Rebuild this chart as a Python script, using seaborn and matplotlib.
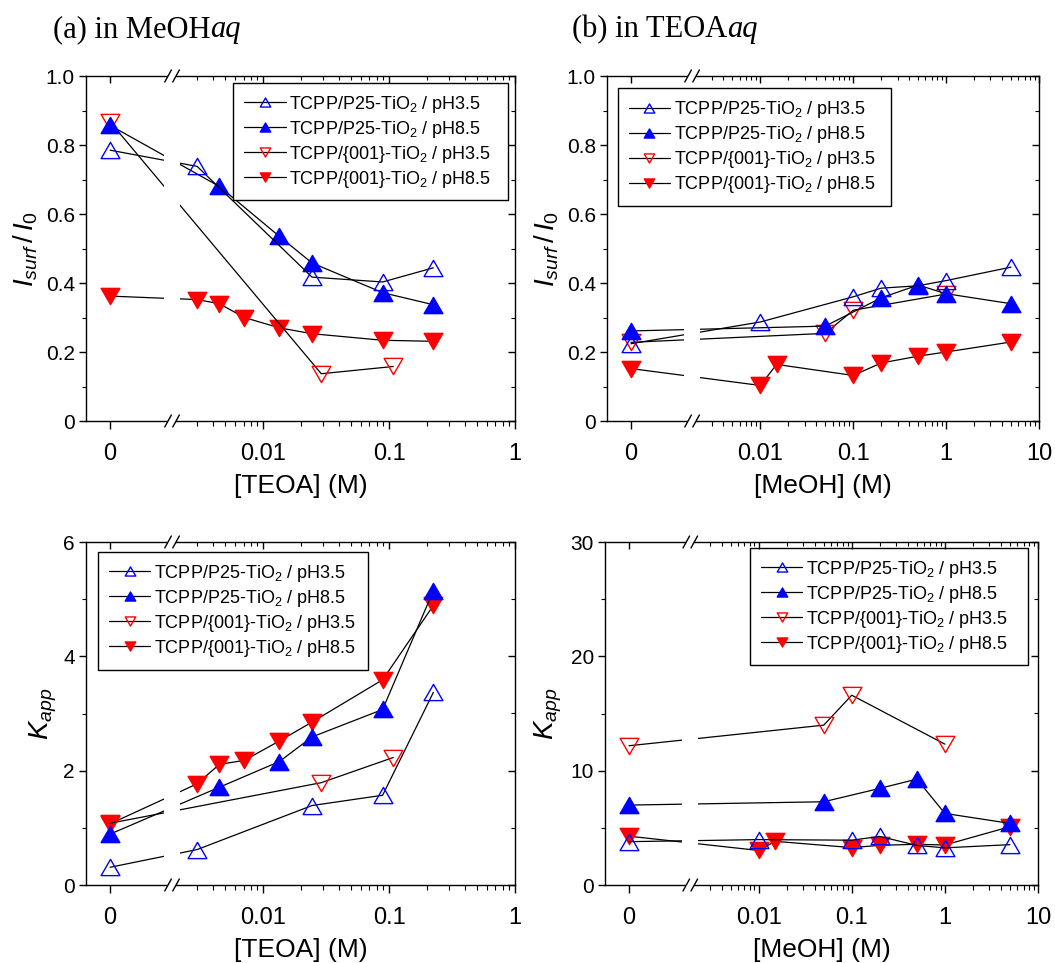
import numpy as np
import pandas as pd
import matplotlib
matplotlib.use("Agg")
import matplotlib.pyplot as plt
from matplotlib.patches import Rectangle
from matplotlib.path import Path
import seaborn as sns

# ---------------- data ----------------
labels = ['TCPP/P25-TiO$_2$ / pH3.5', 'TCPP/P25-TiO$_2$ / pH8.5',
          'TCPP/{001}-TiO$_2$ / pH3.5', 'TCPP/{001}-TiO$_2$ / pH8.5']

# [TEOA] (M), measurements in MeOHaq
teoa_p25_35 = [0, 0.003, 0.0245, 0.089, 0.225]
teoa_p25_85 = [0, 0.0045, 0.0135, 0.0245, 0.089, 0.225]
teoa_001_35 = [0, 0.029, 0.108]
teoa_001_85 = [0, 0.003, 0.0045, 0.0071, 0.0135, 0.0245, 0.089, 0.225]

# [MeOH] (M), measurements in TEOAaq
meoh_p25_35 = [0, 0.01, 0.1, 0.2, 0.5, 1, 5]
meoh_p25_85 = [0, 0.05, 0.2, 0.5, 1, 5]
meoh_001_35 = [0, 0.05, 0.1, 1]
meoh_001_85 = [0, 0.01, 0.015, 0.1, 0.2, 0.5, 1, 5]

# I_surf / I_0
isurf_a_p25_35 = [0.785, 0.738, 0.417, 0.403, 0.444]
isurf_a_p25_85 = [0.857, 0.680, 0.535, 0.458, 0.372, 0.337]
isurf_a_001_35 = [0.867, 0.137, 0.158]
isurf_a_001_85 = [0.362, 0.352, 0.340, 0.300, 0.270, 0.253, 0.234, 0.231]

isurf_b_p25_35 = [0.224, 0.287, 0.360, 0.385, 0.392, 0.407, 0.446]
isurf_b_p25_85 = [0.261, 0.275, 0.357, 0.394, 0.369, 0.340]
isurf_b_001_35 = [0.228, 0.254, 0.321, 0.368]
isurf_b_001_85 = [0.152, 0.103, 0.164, 0.132, 0.168, 0.188, 0.200, 0.229]

# K_app
kapp_a_p25_35 = [0.31, 0.62, 1.39, 1.57, 3.37]
kapp_a_p25_85 = [0.89, 1.71, 2.16, 2.59, 3.07, 5.15]
kapp_a_001_35 = [1.08, 1.79, 2.23]
kapp_a_001_85 = [1.07, 1.77, 2.11, 2.18, 2.52, 2.85, 3.59, 4.89]

kapp_b_p25_35 = [3.79, 3.97, 3.92, 4.25, 3.46, 3.25, 3.53]
kapp_b_p25_85 = [6.99, 7.28, 8.45, 9.26, 6.26, 5.39]
kapp_b_001_35 = [12.18, 13.98, 16.6, 12.32]
kapp_b_001_85 = [4.27, 3.02, 3.82, 3.27, 3.47, 3.56, 3.50, 5.10]

# ---------------- styling ----------------
sns.set_style('ticks', rc={'axes.edgecolor': 'black', 'xtick.color': 'black',
                           'ytick.color': 'black', 'text.color': 'black',
                           'axes.labelcolor': 'black'})
plt.rcParams['font.family'] = ['Liberation Sans', 'DejaVu Sans']
plt.rcParams['mathtext.fontset'] = 'custom'
plt.rcParams['mathtext.rm'] = 'Liberation Sans'
plt.rcParams['mathtext.it'] = 'Liberation Sans:italic'
plt.rcParams['mathtext.bf'] = 'Liberation Sans:bold'
plt.rcParams['axes.linewidth'] = 1.0

TRI_UP = Path([(-1, -0.866), (1, -0.866), (0, 0.866), (0, 0)], closed=True)
TRI_DOWN = Path([(-1, 0.866), (1, 0.866), (0, -0.866), (0, 0)], closed=True)
BLUE = '#0000ff'
RED = '#ff0000'
series_style = [
    dict(marker=TRI_UP, mec=BLUE, mfc='none'),
    dict(marker=TRI_UP, mec=BLUE, mfc=BLUE),
    dict(marker=TRI_DOWN, mec=RED, mfc='none'),
    dict(marker=TRI_DOWN, mec=RED, mfc=RED),
]


def make_scale(zero_pos, brk):
    # 0 sits on its own spot left of the break, the rest is log10
    mid = (zero_pos + brk) / 2

    def forward(x):
        x = np.asarray(x, dtype=float)
        safe = np.where(x > 0, x, 1.0)
        return np.where(x > 0, np.log10(safe), zero_pos + x)

    def inverse(y):
        y = np.asarray(y, dtype=float)
        return np.where(y < mid, y - zero_pos, 10.0 ** np.clip(y, -300, 300))

    return forward, inverse


def draw_break(ax, frac):
    fig = ax.figure
    bb = ax.get_position()
    wpx = bb.width * fig.get_figwidth() * fig.dpi
    hpx = bb.height * fig.get_figheight() * fig.dpi
    # gap in the data lines
    ax.add_patch(Rectangle((frac - 8 / wpx, 0), 16 / wpx, 1, transform=ax.transAxes,
                           facecolor='white', edgecolor='none', zorder=2.1))
    # gap in the spines
    ax.add_patch(Rectangle((frac - 4 / wpx, -12 / hpx), 8 / wpx, 1 + 24 / hpx,
                           transform=ax.transAxes, facecolor='white', edgecolor='none',
                           zorder=3, clip_on=False))
    for yb in (0, 1):
        for off in (-4, 4):
            ax.plot([frac + (off - 3.3) / wpx, frac + (off + 3.3) / wpx],
                    [yb - 6 / hpx, yb + 6 / hpx], transform=ax.transAxes,
                    color='black', lw=1.0, clip_on=False, zorder=4)


def draw_panel(ax, conc, vals, p):
    fwd, inv = make_scale(p['zero'], p['brk'])
    ax.set_xscale('function', functions=(fwd, inv))
    # draw back to front so the P25 markers end up on top
    for i in [3, 2, 1, 0]:
        df = pd.DataFrame({'conc': conc[i], 'val': vals[i]})
        sns.lineplot(data=df, x='conc', y='val', ax=ax, estimator=None, sort=False,
                     color='black', lw=0.9, markersize=13.5, mew=1.0,
                     label=labels[i], legend=False, **series_style[i])

    ax.set_xlim(p['zero_left'], p['right'])
    ax.set_ylim(0, p['ymax'])
    ax.set_xticks(p['xmajor'], p['xlabels'])
    ax.set_xticks(p['xminor'], minor=True)
    ax.set_yticks(p['ymajor'], p['ylabels'])
    ax.set_yticks(p['yminor'], minor=True)
    ax.tick_params(axis='x', which='major', direction='out', length=6, width=1,
                   pad=10, labelsize=17)
    ax.tick_params(axis='x', which='minor', direction='out', length=3.5, width=0.8)
    ax.tick_params(axis='y', which='major', direction='out', length=5, width=1,
                   pad=3, labelsize=15)
    ax.tick_params(axis='y', which='minor', direction='out', length=3, width=0.8)
    ax.set_xlabel(p['xlabel'], fontsize=19, labelpad=6)
    ax.set_ylabel(p['ylabel'], fontsize=20, labelpad=p['ylabelpad'])

    # inward ticks on top and right
    top = ax.twiny()
    top.set_xscale('function', functions=(fwd, inv))
    top.set_xlim(ax.get_xlim())
    top.set_xticks(p['xmajor'])
    top.set_xticks(p['xminor'], minor=True)
    top.tick_params(axis='x', which='major', direction='in', length=5, width=1, labeltop=False)
    top.tick_params(axis='x', which='minor', direction='in', length=3, width=0.8)
    right = ax.twinx()
    right.set_ylim(ax.get_ylim())
    right.set_yticks(p['ymajor'])
    right.set_yticks(p['yminor'], minor=True)
    right.tick_params(axis='y', which='major', direction='in', length=5, width=1, labelright=False)
    right.tick_params(axis='y', which='minor', direction='in', length=3, width=0.8)
    for a in (top, right):
        for s in a.spines.values():
            s.set_visible(False)

    # broken axis between 0 and the log part
    left_pos = p['zero'] + p['zero_left']
    frac = (p['brk'] - left_pos) / (np.log10(p['right']) - left_pos)
    draw_break(ax, frac)
    ax.set_xlim(p['zero_left'], p['right'])

    handles, labs = ax.get_legend_handles_labels()
    order = [labs.index(l) for l in labels]
    x0, w, y1 = p['leg_box']
    leg = ax.legend([handles[k] for k in order], [labs[k] for k in order],
                    loc='upper left', bbox_to_anchor=(x0, y1 - 0.5, w, 0.5), mode='expand',
                    borderaxespad=0, fontsize=13, markerscale=0.56, handlelength=2.3,
                    handletextpad=0.2, labelspacing=0.22, borderpad=0.6,
                    fancybox=False, framealpha=1, edgecolor='black')
    leg.get_frame().set_linewidth(1.0)
    leg.set_zorder(6)


teoa_minor = [k * 10.0 ** e for e in (-3, -2, -1) for k in range(2, 10) if k * 10.0 ** e > 0.0025]
meoh_minor = [k * 10.0 ** e for e in (-3, -2, -1, 0) for k in range(2, 10) if k * 10.0 ** e > 0.0025]

panel_a = dict(zero=-3.214, brk=-2.722, zero_left=-0.191, right=1,
               xmajor=[0, 0.01, 0.1, 1], xlabels=['0', '0.01', '0.1', '1'],
               xminor=teoa_minor, xlabel='[TEOA] (M)')
panel_b = dict(zero=-3.392, brk=-2.734, zero_left=-0.258, right=10,
               xmajor=[0, 0.01, 0.1, 1, 10], xlabels=['0', '0.01', '0.1', '1', '10'],
               xminor=meoh_minor, xlabel='[MeOH] (M)')
isurf_y = dict(ymax=1.0, ymajor=[0, 0.2, 0.4, 0.6, 0.8, 1.0],
               ylabels=['0', '0.2', '0.4', '0.6', '0.8', '1.0'],
               yminor=[0.1, 0.3, 0.5, 0.7, 0.9], ylabel=r'$I_{surf}\,/\,I_0$')

W, H = 1055, 963
fig = plt.figure(figsize=(W / 100, H / 100), dpi=100)
ax_a1 = fig.add_axes([86 / W, 1 - 421 / H, 429 / W, 345 / H])
ax_b1 = fig.add_axes([607 / W, 1 - 421 / H, 432 / W, 345 / H])
ax_a2 = fig.add_axes([86 / W, 1 - 885 / H, 429 / W, 343 / H])
ax_b2 = fig.add_axes([605 / W, 1 - 885 / H, 433 / W, 343 / H])

draw_panel(ax_a1, [teoa_p25_35, teoa_p25_85, teoa_001_35, teoa_001_85],
           [isurf_a_p25_35, isurf_a_p25_85, isurf_a_001_35, isurf_a_001_85],
           dict(panel_a, **isurf_y, ylabelpad=4, leg_box=(0.343, 0.641, 0.980)))
draw_panel(ax_b1, [meoh_p25_35, meoh_p25_85, meoh_001_35, meoh_001_85],
           [isurf_b_p25_35, isurf_b_p25_85, isurf_b_001_35, isurf_b_001_85],
           dict(panel_b, **isurf_y, ylabelpad=4, leg_box=(0.025, 0.632, 0.965)))
draw_panel(ax_a2, [teoa_p25_35, teoa_p25_85, teoa_001_35, teoa_001_85],
           [kapp_a_p25_35, kapp_a_p25_85, kapp_a_001_35, kapp_a_001_85],
           dict(panel_a, ymax=6, ymajor=[0, 2, 4, 6], ylabels=['0', '2', '4', '6'],
                yminor=[1, 3, 5], ylabel='$K_{app}$', ylabelpad=3,
                leg_box=(0.028, 0.629, 0.971)))
draw_panel(ax_b2, [meoh_p25_35, meoh_p25_85, meoh_001_35, meoh_001_85],
           [kapp_b_p25_35, kapp_b_p25_85, kapp_b_001_35, kapp_b_001_85],
           dict(panel_b, ymax=30, ymajor=[0, 10, 20, 30], ylabels=['0', '10', '20', '30'],
                yminor=[5, 15, 25], ylabel='$K_{app}$', ylabelpad=5,
                leg_box=(0.335, 0.642, 0.983)))

# panel titles, serif with italic "aq"
for x0, txt in [(53, '(a) in MeOH'), (572, '(b) in TEOA')]:
    t = fig.text(x0 / W, 1 - 37 / H, txt, family='Liberation Serif', fontsize=22,
                 va='baseline', ha='left')
    ax_a1.annotate('aq', xy=(1, 0), xycoords=t, va='bottom', ha='left',
                   family='Liberation Serif', style='italic', fontsize=22,
                   annotation_clip=False)

fig.savefig('out.png', dpi=100)
